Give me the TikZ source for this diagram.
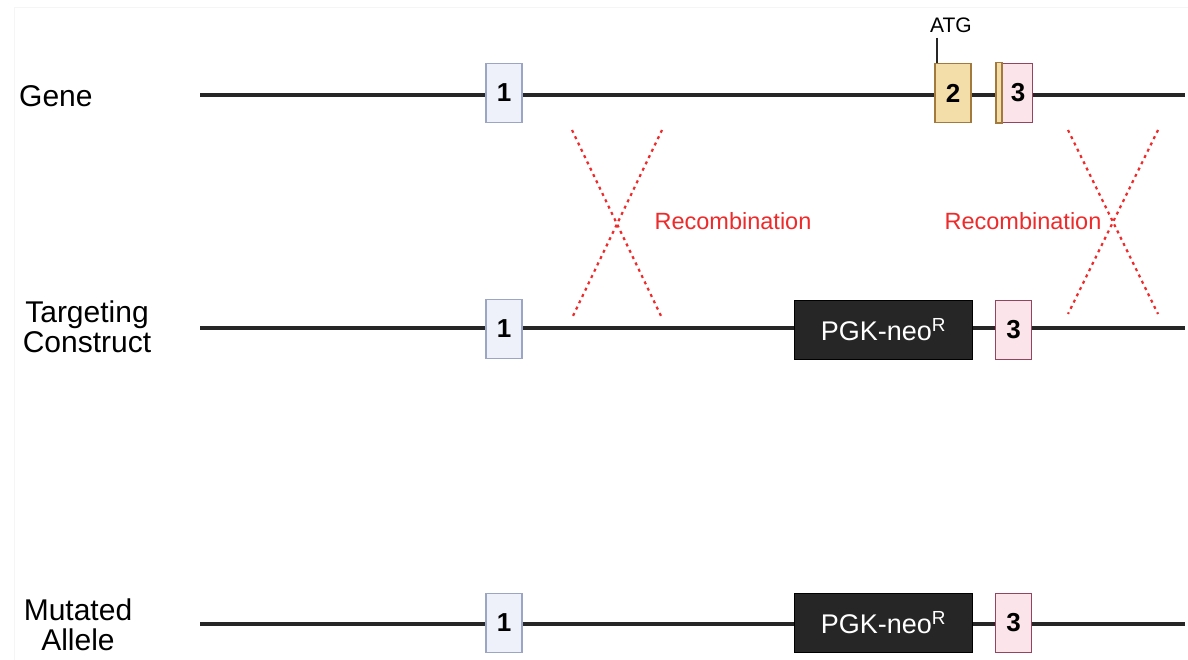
\documentclass[tikz,border=0pt]{standalone}
\usepackage{fontspec}
\setmainfont{Liberation Sans}
\definecolor{exAfill}{HTML}{EEF1FA}
\definecolor{exAdraw}{HTML}{9AA6C4}
\definecolor{exBfill}{HTML}{F3DDA8}
\definecolor{exBdraw}{HTML}{A37A3E}
\definecolor{exCfill}{HTML}{FBE4EA}
\definecolor{exCdraw}{HTML}{94445E}
\definecolor{recred}{HTML}{EE2A2A}
\begin{document}
\begin{tikzpicture}[x=1pt,y=-1pt,
  dna/.style={line width=4pt,draw=black!85},
  exonbase/.style={draw,line width=1.5pt,minimum width=36pt,minimum height=59pt,inner sep=0pt,font=\fontsize{26}{26}\selectfont\bfseries},
  exA/.style={exonbase,fill=exAfill,draw=exAdraw},
  exB/.style={exonbase,fill=exBfill,draw=exBdraw},
  exC/.style={exonbase,fill=exCfill,draw=exCdraw},
  pgk/.style={draw=black,line width=1.5pt,fill=black!85,text=white,minimum width=178pt,minimum height=59pt,inner sep=0pt,font=\fontsize{27}{27}\selectfont},
  lbl/.style={font=\fontsize{30}{30}\selectfont,align=center,inner sep=0pt},
  rec/.style={text=recred,font=\fontsize{23.5}{23.5}\selectfont,inner sep=0pt},
  cross/.style={recred,line width=2.2pt,dash pattern=on 3pt off 4pt}
]
\useasboundingbox (0,0) rectangle (1188,660);
\fill[white] (0,0) rectangle (1188,660);
\draw[black!4,line width=1pt] (14,660) -- (14,8) -- (1188,8);

% labels
\node[lbl,anchor=west] (lg) at (19,96) {Gene};
\node[lbl] (lt) at (87,327) {Targeting\\Construct};
\node[lbl] (lm) at (78,625) {Mutated\\Allele};

% Gene row
\coordinate (gs) at (200,95);
\coordinate (ge) at (1185,95);
\draw[dna] (gs) -- (ge);
\node[exA] (g1) at (504,93) {1};
\node[exB] (g2) at (953,93) {2};
\node[exC] (g3) at (1014.5,93) {};
\draw[exBdraw,line width=1.5pt,fill=exBfill] (g3.north west) rectangle ([xshift=6pt]g3.south west);
\node[font=\fontsize{26}{26}\selectfont\bfseries] (g3n) at (1018,93) {3};
\node[font=\fontsize{21}{21}\selectfont,inner sep=0pt] (atg) at (951,25) {ATG};
\coordinate (atgt) at (937,38);
\draw[line width=1.5pt,black!85] (atgt) -- (g2.north west -| atgt);

% crosses
\coordinate (c1a) at (572,130); \coordinate (c1b) at (662,318);
\coordinate (c1c) at (662,130); \coordinate (c1d) at (572,318);
\draw[cross] (c1a) -- (c1b);
\draw[cross] (c1c) -- (c1d);
\coordinate (c2a) at (1068,130); \coordinate (c2b) at (1158,314);
\coordinate (c2c) at (1158,130); \coordinate (c2d) at (1068,314);
\draw[cross] (c2a) -- (c2b);
\draw[cross] (c2c) -- (c2d);
\node[rec] (r1) at (733,221) {Recombination};
\node[rec] (r2) at (1023,221) {Recombination};

% Targeting row
\coordinate (ts) at (200,328);
\coordinate (te) at (1185,328);
\draw[dna] (ts) -- (te);
\node[exA] (t1) at (504,329) {1};
\node[pgk] (tp) at (883.5,330) {PGK-neo\textsuperscript{R}};
\node[exC] (t3) at (1013.5,330) {3};

% Mutated row
\coordinate (ms) at (200,624);
\coordinate (me) at (1185,624);
\draw[dna] (ms) -- (me);
\node[exA] (m1) at (504,623) {1};
\node[pgk] (mp) at (883.5,623) {PGK-neo\textsuperscript{R}};
\node[exC] (m3) at (1013.5,623) {3};
\end{tikzpicture}
\end{document}
